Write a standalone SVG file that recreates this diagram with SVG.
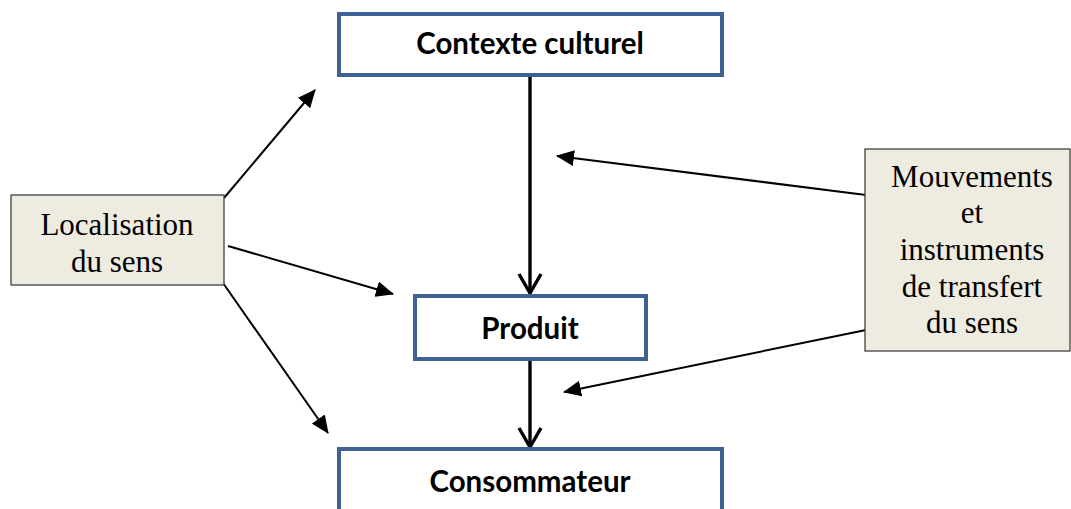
<svg xmlns="http://www.w3.org/2000/svg" width="1071" height="509" viewBox="0 0 1071 509">
<style>
.blue{fill:#fff;stroke:#3d6293;stroke-width:4}
.tan{fill:#eeece1;stroke:#404040;stroke-width:1.3}
.bt{font-family:Lato,"Liberation Sans",sans-serif;font-weight:bold;font-size:29.5px;fill:#000;text-anchor:middle}
.st{font-family:"Liberation Serif","Times New Roman",serif;font-size:31px;fill:#000;text-anchor:middle}
.thin{stroke:#000;stroke-width:2;fill:none}
.thick{stroke:#000;stroke-width:3.4;fill:none}
</style>
<defs>
<marker id="tri" markerUnits="userSpaceOnUse" markerWidth="18" markerHeight="16" viewBox="0 0 18 16" refX="17" refY="8" orient="auto">
<path d="M0,0 L18,8 L0,16 z" fill="#000"/>
</marker>
<marker id="vee" markerUnits="userSpaceOnUse" markerWidth="26" markerHeight="26" viewBox="-2 -13 24 26" refX="19" refY="0" orient="auto">
<path d="M0,-11 L19,0 L0,11" fill="none" stroke="#000" stroke-width="3.4"/>
</marker>
</defs>
<g id="connectors">
<line class="thick" x1="530" y1="75" x2="530" y2="293" marker-end="url(#vee)"/>
<line class="thick" x1="530" y1="356" x2="530" y2="447" marker-end="url(#vee)"/>
<line class="thin" x1="224" y1="198" x2="315" y2="90" marker-end="url(#tri)"/>
<line class="thin" x1="228" y1="246" x2="393" y2="294" marker-end="url(#tri)"/>
<line class="thin" x1="223" y1="283" x2="328" y2="433" marker-end="url(#tri)"/>
<line class="thin" x1="866" y1="195" x2="557" y2="156" marker-end="url(#tri)"/>
<line class="thin" x1="866" y1="330" x2="564" y2="392" marker-end="url(#tri)"/>
</g>
<g id="contexte">
<rect class="blue" x="339" y="14" width="383" height="61"/>
<text class="bt" x="530" y="54">Contexte culturel</text>
</g>
<g id="produit">
<rect class="blue" x="415" y="296" width="231" height="63"/>
<text class="bt" x="530" y="339">Produit</text>
</g>
<g id="consommateur">
<rect class="blue" x="339" y="449" width="383" height="66"/>
<text class="bt" x="530" y="492">Consommateur</text>
</g>
<g id="localisation">
<rect class="tan" x="11" y="195" width="213" height="90"/>
<text class="st" x="117" y="235">Localisation</text>
<text class="st" x="117" y="272">du sens</text>
</g>
<g id="mouvements">
<rect class="tan" x="865" y="149" width="205" height="202"/>
<text class="st" x="972" y="187">Mouvements</text>
<text class="st" x="972" y="223">et</text>
<text class="st" x="972" y="260">instruments</text>
<text class="st" x="972" y="297">de transfert</text>
<text class="st" x="972" y="333">du sens</text>
</g>
</svg>
